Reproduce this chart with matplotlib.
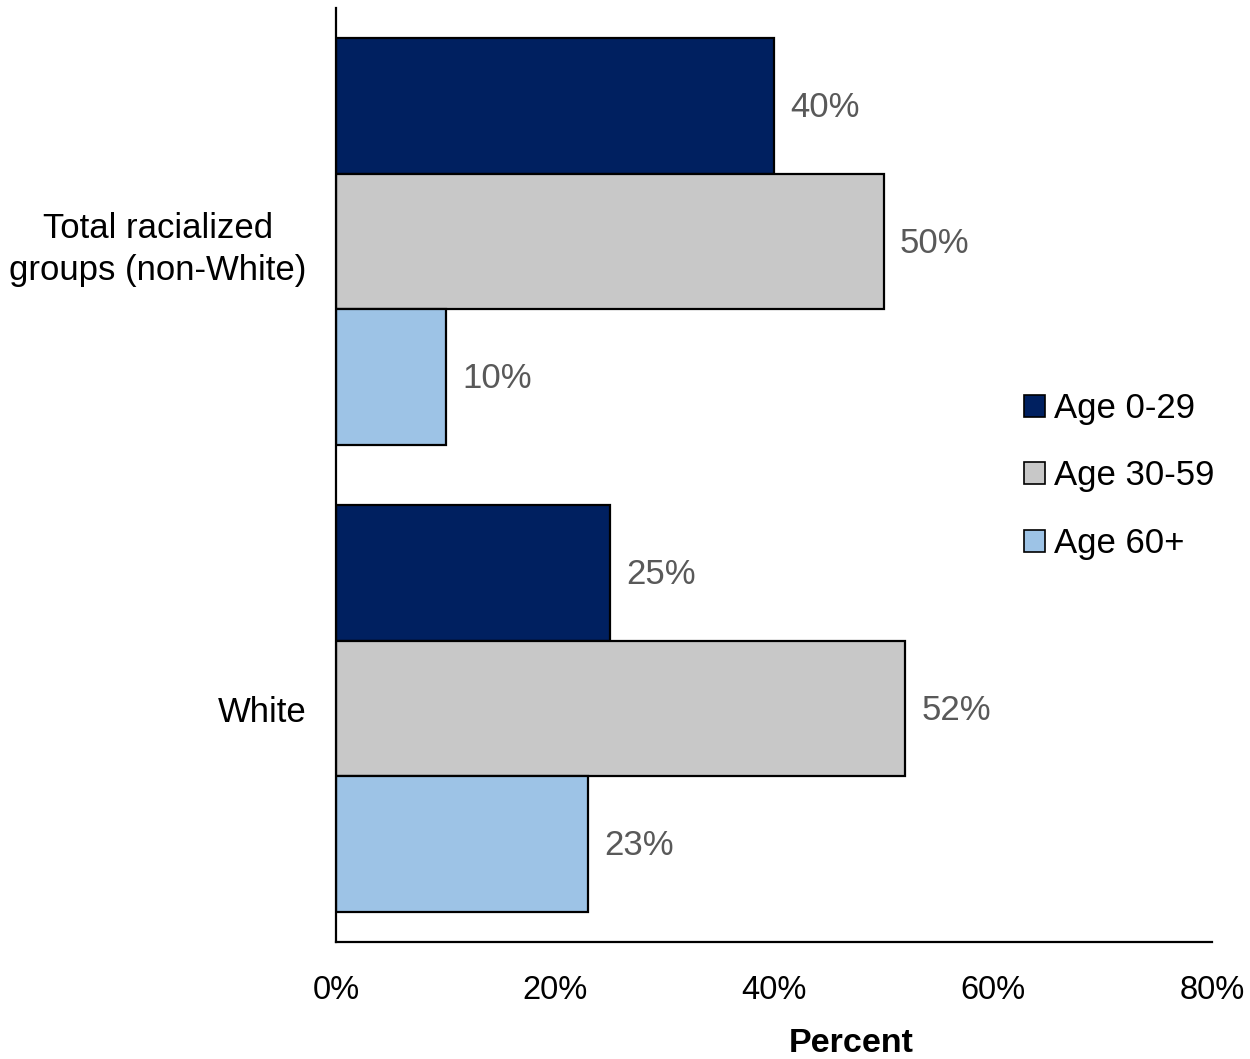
import numpy as np
import matplotlib.pyplot as plt
from matplotlib.patches import Patch
from matplotlib.ticker import PercentFormatter

plt.rcParams['font.family'] = ['Liberation Sans', 'DejaVu Sans']

groups = ['Total racialized\ngroups (non-White)', 'White']
series = ['Age 0-29', 'Age 30-59', 'Age 60+']
values = {
    'Age 0-29': [40, 25],
    'Age 30-59': [50, 52],
    'Age 60+': [10, 23],
}
colors = ['#002060', '#C8C8C8', '#9DC3E6']
xticks = [0, 20, 40, 60, 80]

fig = plt.figure(figsize=(12.5, 10.59), dpi=100)
ax = fig.add_axes([336/1250, 117/1059, 876/1250, 934/1059])

y = np.array([1.0, 0.0])
h = 0.29
offsets = [h, 0.0, -h]
for s, off, c in zip(series, offsets, colors):
    vals = values[s]
    ax.barh(y + off, vals, height=h, color=c, edgecolor='black', linewidth=1.6)
    for yy, v in zip(y + off, vals):
        ax.text(v + 1.5, yy - 0.004, f'{v}%', va='center', ha='left', fontsize=25, color='#595959')

ax.set_xlim(0, 80)
ax.set_ylim(-0.5, 1.5)
ax.set_xticks(xticks)
ax.xaxis.set_major_formatter(PercentFormatter(decimals=0))
ax.set_yticks(y)
ax.set_yticklabels(groups, multialignment='center', fontsize=25, linespacing=1.35)
ax.tick_params(axis='both', length=0)
ax.tick_params(axis='x', pad=24, labelsize=23.5)
ax.tick_params(axis='y', pad=21)
for sp in ['top', 'right']:
    ax.spines[sp].set_visible(False)
for sp in ['left', 'bottom']:
    ax.spines[sp].set_linewidth(1.6)

fig.text(851/1250, 1 - 1043/1059, 'Percent', ha='center', va='center', fontsize=24.5, fontweight='bold')

handles = [Patch(facecolor=c, edgecolor='black', linewidth=1.2) for c in colors]
ax.legend(handles, series, loc='center left', bbox_to_anchor=(1024/1250, 1 - 476/1059),
          bbox_transform=fig.transFigure, frameon=False, fontsize=25,
          handlelength=0.6, handleheight=0.6, handletextpad=0.25, labelspacing=1.0,
          borderaxespad=0, borderpad=0)

fig.savefig('out.png', dpi=100)
